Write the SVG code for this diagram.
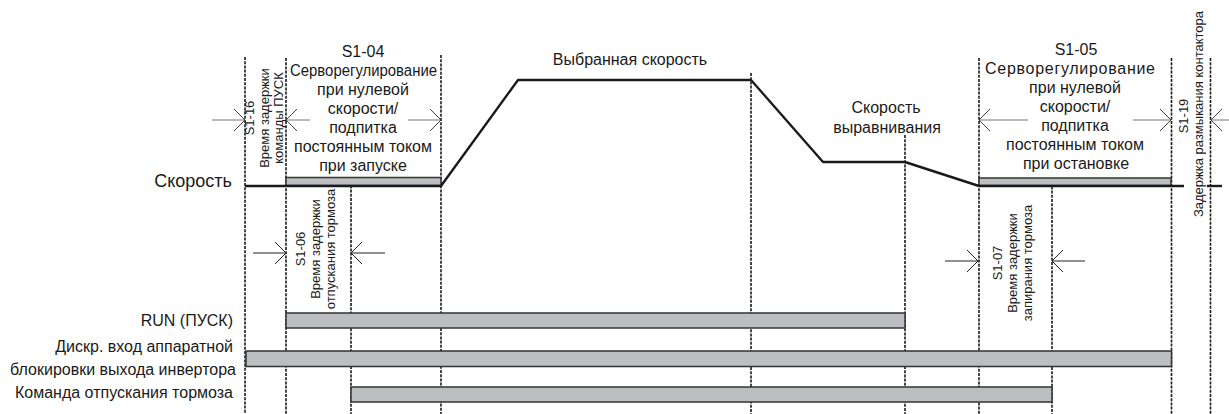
<svg xmlns="http://www.w3.org/2000/svg" width="1229" height="414" viewBox="0 0 1229 414">
<style>
  text { font-family: "Liberation Sans", Arial, sans-serif; fill: #1a1a1a; }
  .h { font-size: 16px; text-anchor: middle; }
  .lbl { font-size: 16px; text-anchor: end; }
  .big { font-size: 18px; text-anchor: end; }
  .v { font-size: 13px; text-anchor: middle; }
  .grid { stroke: #1a1a1a; stroke-width: 1.6; stroke-dasharray: 3 1.2; fill: none; }
  .bar { fill: #bdbec1; stroke: #333; stroke-width: 1.5; }
  .speed { stroke: #1a1a1a; stroke-width: 2.4; fill: none; stroke-linejoin: round; }
  .arr { stroke: #777; stroke-width: 1; fill: none; marker-end: url(#head); }
  .arr2 { stroke: #222; stroke-width: 1; fill: none; marker-end: url(#head2); }
</style>
<defs>
  <marker id="head" viewBox="0 0 12 24" refX="11" refY="12" markerWidth="12" markerHeight="24" markerUnits="userSpaceOnUse" orient="auto">
    <path d="M0,1 L11,12 L0,23" fill="none" stroke="#444" stroke-width="1"/>
  </marker>
  <marker id="head2" viewBox="0 0 12 24" refX="11" refY="12" markerWidth="12" markerHeight="24" markerUnits="userSpaceOnUse" orient="auto">
    <path d="M0,1 L11,12 L0,23" fill="none" stroke="#222" stroke-width="1"/>
  </marker>
</defs>
<rect width="1229" height="414" fill="#fff"/>

<g id="gridlines">
  <line class="grid" x1="245" y1="57" x2="245" y2="414"/>
  <line class="grid" x1="286" y1="58" x2="286" y2="414"/>
  <line class="grid" x1="351" y1="177" x2="351" y2="414"/>
  <line class="grid" x1="441" y1="55" x2="441" y2="414"/>
  <line class="grid" x1="751" y1="73" x2="751" y2="414"/>
  <line class="grid" x1="905" y1="135" x2="905" y2="414"/>
  <line class="grid" x1="979" y1="58" x2="979" y2="414"/>
  <line class="grid" x1="1052" y1="178" x2="1052" y2="414"/>
  <line class="grid" x1="1171.5" y1="58" x2="1171.5" y2="414"/>
  <line class="grid" x1="1210.5" y1="58" x2="1210.5" y2="414"/>
</g>

<g id="bars">
  <rect id="bar-s104" class="bar" x="286" y="177.5" width="155" height="8"/>
  <rect id="bar-s105" class="bar" x="979" y="178" width="192" height="7.5"/>
  <rect id="bar-run" class="bar" x="286" y="313" width="619" height="15"/>
  <rect id="bar-hw" class="bar" x="246" y="351" width="925.5" height="15.5"/>
  <rect id="bar-brake" class="bar" x="351" y="387" width="701" height="15"/>
</g>

<g id="connectors">
  <polyline id="speed-profile" class="speed" points="245,186 441,186 518,80 751,80 823,162 905,162 979,186 1184,186"/>
  <line class="speed" x1="1207" y1="186" x2="1222" y2="186"/>
  <line class="arr" x1="212" y1="120" x2="245" y2="120"/>
  <line class="arr" x1="310" y1="120" x2="286" y2="120"/>
  <line class="arr" x1="408" y1="120" x2="441" y2="120"/>
  <line class="arr" x1="1028" y1="120" x2="979" y2="120"/>
  <line class="arr" x1="1133" y1="120" x2="1171" y2="120"/>
  <line class="arr" x1="1229" y1="120" x2="1211" y2="120"/>
  <line class="arr2" x1="253" y1="253" x2="286" y2="253"/>
  <line class="arr2" x1="385" y1="253" x2="351" y2="253"/>
  <line class="arr2" x1="945" y1="261" x2="978" y2="261"/>
  <line class="arr2" x1="1085" y1="261" x2="1052" y2="261"/>
</g>

<g id="label-speed"><text class="big" x="232" y="187">Скорость</text></g>
<g id="label-run"><text class="lbl" x="233" y="326">RUN (ПУСК)</text></g>
<g id="label-hw">
  <text class="lbl" x="233" y="351.5">Дискр. вход аппаратной</text>
  <text class="lbl" x="236" y="374.5">блокировки выхода инвертора</text>
</g>
<g id="label-brake"><text class="lbl" x="233" y="397.5">Команда отпускания тормоза</text></g>

<g id="label-selected"><text class="h" x="630" y="65">Выбранная скорость</text></g>
<g id="label-level">
  <text class="h" x="886" y="113">Скорость</text>
  <text class="h" x="887" y="133">выравнивания</text>
</g>

<g id="s1-04">
  <text class="h" x="363" y="57">S1-04</text>
  <text class="h" x="363.5" y="76" textLength="147" lengthAdjust="spacingAndGlyphs">Серворегулирование</text>
  <text class="h" x="363" y="95">при нулевой</text>
  <text class="h" x="363" y="114">скорости/</text>
  <text class="h" x="363" y="133">подпитка</text>
  <text class="h" x="363" y="152">постоянным током</text>
  <text class="h" x="363" y="171">при запуске</text>
</g>

<g id="s1-05">
  <text class="h" x="1076" y="55">S1-05</text>
  <text class="h" x="1070" y="74" textLength="170" lengthAdjust="spacing">Серворегулирование</text>
  <text class="h" x="1075" y="93">при нулевой</text>
  <text class="h" x="1075" y="112">скорости/</text>
  <text class="h" x="1075" y="131">подпитка</text>
  <text class="h" x="1075" y="150">постоянным током</text>
  <text class="h" x="1076" y="169">при остановке</text>
</g>

<g id="s1-16">
  <text class="v" transform="translate(254,118) rotate(-90)">S1-16</text>
  <text class="v" transform="translate(268.5,118) rotate(-90)">Время задержки</text>
  <text class="v" transform="translate(283,118) rotate(-90)">команды ПУСК</text>
</g>

<g id="s1-06">
  <text class="v" transform="translate(305,249) rotate(-90)">S1-06</text>
  <text class="v" transform="translate(320,249) rotate(-90)">Время задержки</text>
  <text class="v" transform="translate(335,249) rotate(-90)">отпускания тормоза</text>
</g>

<g id="s1-07">
  <text class="v" transform="translate(1002,263) rotate(-90)">S1-07</text>
  <text class="v" transform="translate(1017,263) rotate(-90)">Время задержки</text>
  <text class="v" transform="translate(1032,263) rotate(-90)">запирания тормоза</text>
</g>

<g id="s1-19">
  <text class="v" transform="translate(1188,116) rotate(-90)">S1-19</text>
  <text class="v" transform="translate(1203,114) rotate(-90)">Задержка размыкания контактора</text>
</g>
</svg>
